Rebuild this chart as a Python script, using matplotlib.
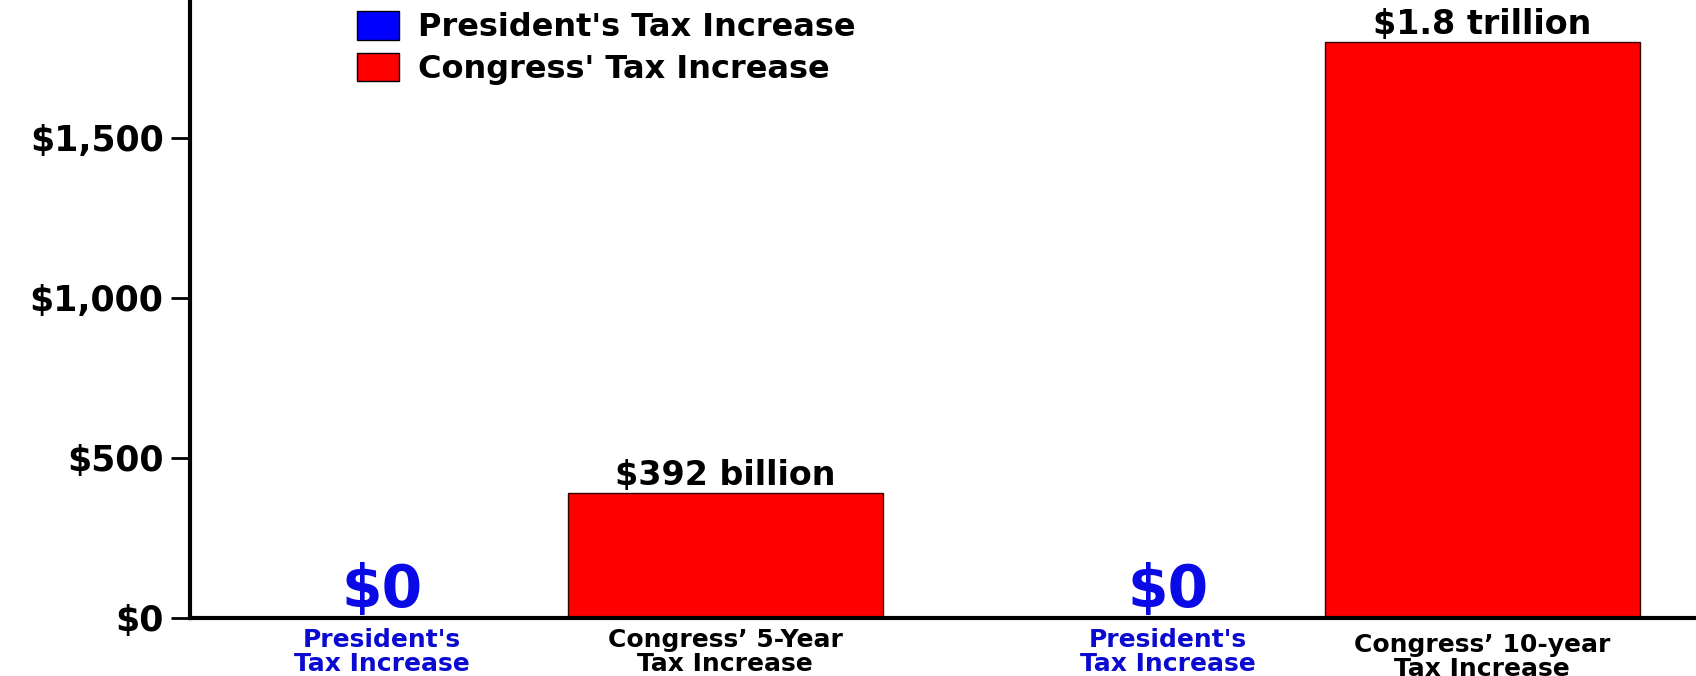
import numpy as np
import matplotlib
matplotlib.use('Agg')
import matplotlib.pyplot as plt

# values in billions of dollars
president = [0, 0]
congress = [392, 1800]
congress_notes = ['$392 billion', '$1.8 trillion']
president_notes = ['$0', '$0']
xlabels = ["President's\nTax Increase", "Congress\u2019 5-Year\nTax Increase",
           "President's\nTax Increase", "Congress\u2019 10-year\nTax Increase"]
yticks = [0, 500, 1000, 1500]
ytick_labels = ['$0', '$500', '$1,000', '$1,500']
legend_labels = ["President's Tax Increase", "Congress' Tax Increase"]

plt.rcParams['font.family'] = 'DejaVu Sans'
plt.rcParams['font.weight'] = 'bold'

fig = plt.figure(figsize=(16.96, 6.76), dpi=100)
ax = fig.add_axes([190 / 1696, 58 / 676, 1 - 190 / 1696, 1 - 58 / 676])

# layout (x in units of 100 px from the y axis)
x_pres = np.array([1.92, 9.78])
x_cong = np.array([5.35, 12.92])
w = 3.15

ax.bar(x_pres, president, w, color='#0000ff', edgecolor='#222222', linewidth=1,
       label=legend_labels[0])
ax.bar(x_cong, congress, w, color='#ff0000', edgecolor='#330000', linewidth=1,
       label=legend_labels[1])

for x, v, t in zip(x_cong, congress, congress_notes):
    ax.annotate(t, (x, v), xytext=(0, 1), textcoords='offset pixels',
                ha='center', va='bottom', fontsize=24, fontweight='bold', color='black')
for x, v, t in zip(x_pres, president, president_notes):
    ax.annotate(t, (x, v), xytext=(0, -1), textcoords='offset pixels',
                ha='center', va='bottom', fontsize=42, fontweight='bold', color='#0a0ae6')

ax.set_xlim(0, 15.06)
ax.set_ylim(0, 1931)

ax.set_yticks(yticks)
ax.set_yticklabels(ytick_labels, fontsize=25, fontweight='bold')
ax.tick_params(axis='y', length=14, width=2, pad=5, direction='out')

ax.set_xticks(np.array([x_pres[0], x_cong[0], x_pres[1], x_cong[1]]))
ax.set_xticklabels(xlabels, fontsize=18, fontweight='bold', linespacing=1.0)
ax.tick_params(axis='x', length=0, pad=7)
for lab, c in zip(ax.get_xticklabels(), ['#0a0ad0', 'black', '#0a0ad0', 'black']):
    lab.set_color(c)
ax.xaxis.get_major_ticks()[3].set_pad(11)

for s in ['top', 'right']:
    ax.spines[s].set_visible(False)
for s in ['left', 'bottom']:
    ax.spines[s].set_linewidth(3)

leg = ax.legend(loc='upper left', bbox_to_anchor=(357 / 1696, 1 - 11 / 676),
                bbox_transform=fig.transFigure, frameon=False, fontsize=23,
                handlelength=1.3, handleheight=1.0, handletextpad=0.6,
                labelspacing=0.3, borderpad=0, borderaxespad=0)
for h in leg.legend_handles:
    h.set_edgecolor('black')

fig.savefig('out.png', dpi=100)
